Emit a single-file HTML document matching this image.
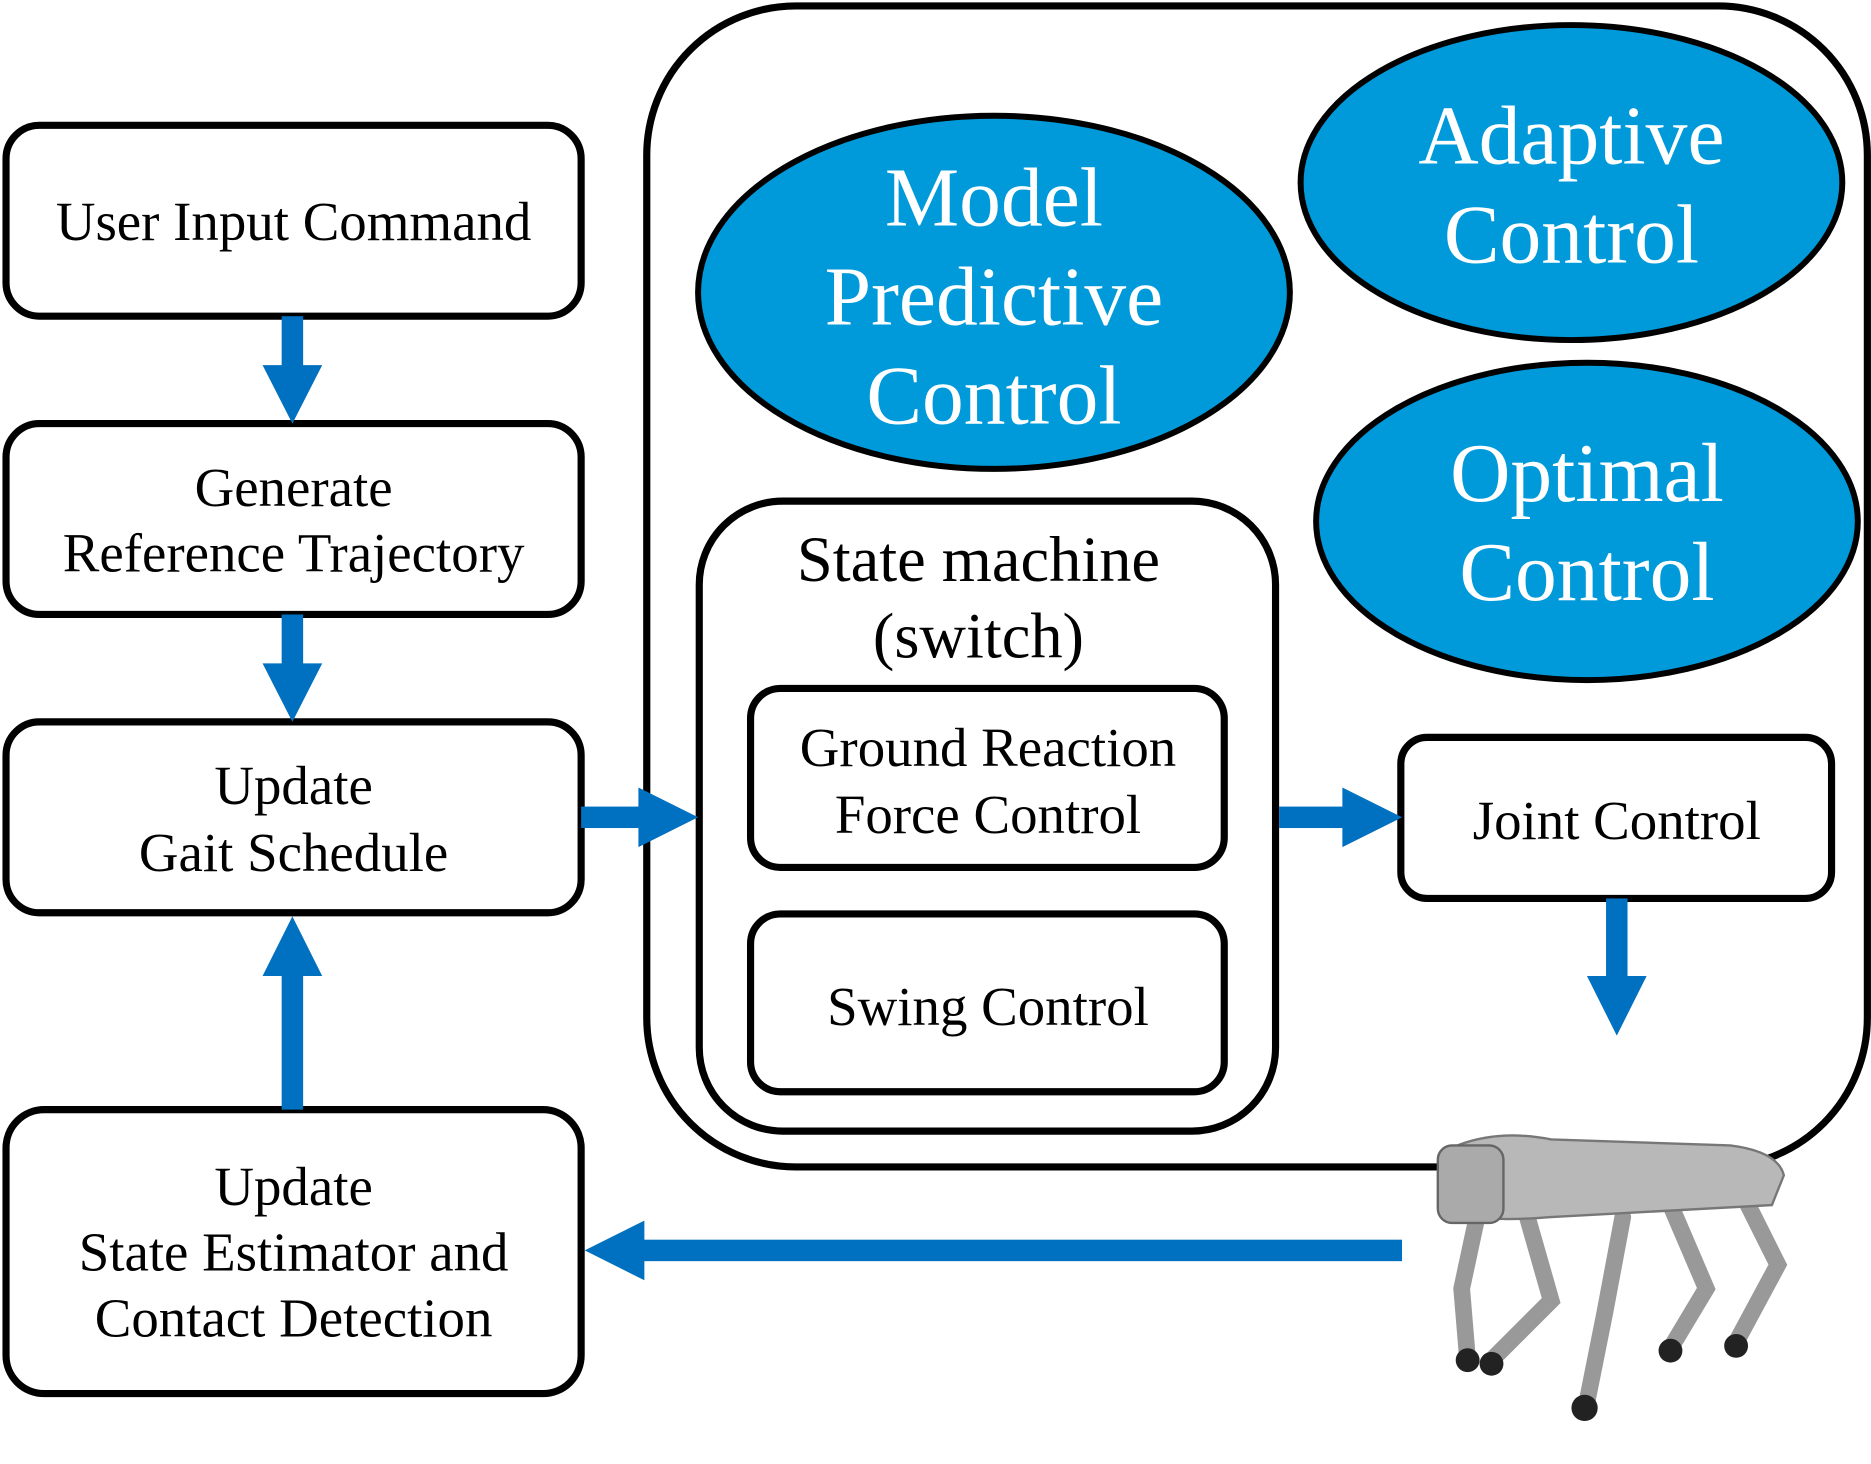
<!DOCTYPE html>
<html><head><meta charset="utf-8"><style>
html,body{margin:0;padding:0;background:#fff;}
svg{display:block;}
text{font-family:"Liberation Serif",serif;}
</style></head><body>
<svg width="1871" height="1464" viewBox="0 0 1568 1227" xmlns="http://www.w3.org/2000/svg">
<g fill="none" stroke="#000" stroke-width="6">
<rect x="5" y="105" width="482" height="160" rx="28"/>
<rect x="5" y="355" width="482" height="160" rx="28"/>
<rect x="5" y="605" width="482" height="160" rx="28"/>
<rect x="5" y="930" width="482" height="238" rx="32"/>
<rect x="542" y="5" width="1023" height="973" rx="125"/>
<rect x="586" y="420" width="483" height="528" rx="70"/>
<rect x="629" y="577" width="397" height="150" rx="25"/>
<rect x="629" y="766" width="397" height="149" rx="25"/>
<rect x="1174" y="618" width="361" height="135" rx="22"/>
</g>
<g fill="#009ada" stroke="#000" stroke-width="5">
<ellipse cx="833" cy="245" rx="248" ry="148"/>
<ellipse cx="1317" cy="153" rx="227" ry="132"/>
<ellipse cx="1330" cy="437" rx="227" ry="133"/>
</g>
<g fill="#0070c0">
<rect x="236" y="265" width="18" height="45"/><polygon points="220,306 270,306 245,355"/>
<rect x="236" y="515" width="18" height="45"/><polygon points="220,556 270,556 245,605"/>
<rect x="236" y="815" width="18" height="115"/><polygon points="220,818 270,818 245,768"/>
<rect x="487" y="676" width="50" height="18"/><polygon points="535,660 535,710 585,685"/>
<rect x="1072" y="676" width="55" height="18"/><polygon points="1125,660 1125,710 1175,685"/>
<rect x="1346" y="753" width="18" height="68"/><polygon points="1330,818 1380,818 1355,868"/>
<rect x="537" y="1039" width="638" height="18"/><polygon points="540,1023 540,1073 490,1048"/>
</g>
<g font-size="46" text-anchor="middle" fill="#000">
<text x="246" y="201">User Input Command</text>
<text x="246" y="424">Generate</text>
<text x="246" y="479">Reference Trajectory</text>
<text x="246" y="674">Update</text>
<text x="246" y="730">Gait Schedule</text>
<text x="246" y="1010">Update</text>
<text x="246" y="1065">State Estimator and</text>
<text x="246" y="1120">Contact Detection</text>
<text x="828" y="642">Ground Reaction</text>
<text x="828" y="698">Force Control</text>
<text x="828" y="859">Swing Control</text>
<text x="1355" y="703">Joint Control</text>
<text x="820" y="487" font-size="54">State machine</text>
<text x="820" y="551" font-size="54">(switch)</text>
</g>
<g font-size="70" text-anchor="middle" fill="#fff">
<text x="833" y="189">Model</text>
<text x="833" y="272">Predictive</text>
<text x="833" y="355">Control</text>
<text x="1317" y="137">Adaptive</text>
<text x="1317" y="220">Control</text>
<text x="1330" y="420">Optimal</text>
<text x="1330" y="503">Control</text>
</g>
<g stroke="#999" stroke-width="14" stroke-linecap="round" fill="none">
<path d="M1240,1010 L1225,1080 L1230,1140"/>
<path d="M1280,1020 L1300,1090 L1250,1140"/>
<path d="M1360,1020 L1345,1100 L1330,1175"/>
<path d="M1400,1010 L1430,1080 L1400,1130"/>
<path d="M1460,1000 L1490,1060 L1455,1125"/>
</g>
<path d="M1210,965 Q1250,945 1300,955 L1450,960 Q1490,965 1495,985 L1485,1010 L1300,1020 Q1240,1025 1215,1015 Z" fill="#b8b8b8" stroke="#777" stroke-width="2"/>
<rect x="1205" y="960" width="55" height="65" rx="12" fill="#aaa" stroke="#666" stroke-width="2"/>
<g fill="#222">
<circle cx="1230" cy="1140" r="10"/><circle cx="1250" cy="1143" r="10"/>
<circle cx="1328" cy="1180" r="11"/><circle cx="1400" cy="1132" r="10"/><circle cx="1455" cy="1128" r="10"/>
</g>
</svg>
</body></html>
